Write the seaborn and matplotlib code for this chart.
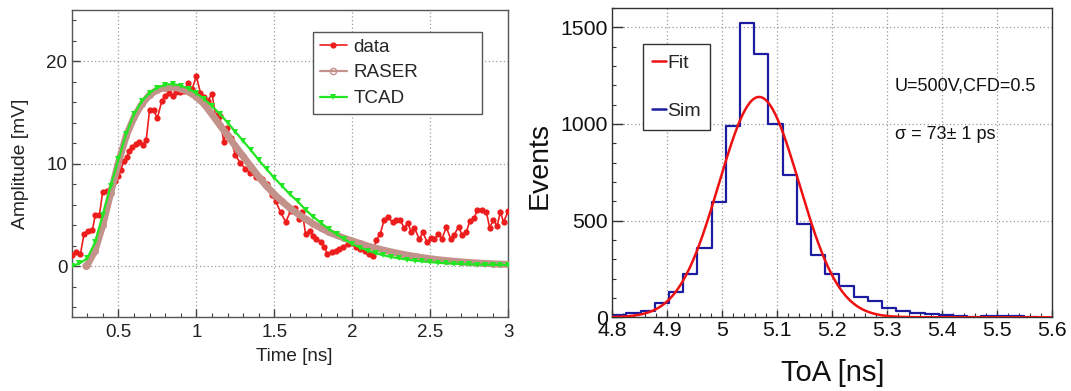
import numpy as np
import pandas as pd
import matplotlib
matplotlib.use("Agg")
import matplotlib.pyplot as plt
import seaborn as sns
from matplotlib.lines import Line2D
from matplotlib.ticker import MultipleLocator, FuncFormatter

# ---------------- data ----------------
data_t = [0.200, 0.228, 0.256, 0.279, 0.305, 0.333, 0.352, 0.378, 0.399, 0.427,
          0.452, 0.475, 0.497, 0.515, 0.535, 0.552, 0.570, 0.590, 0.612, 0.635,
          0.657, 0.678, 0.700, 0.725, 0.750, 0.778, 0.800, 0.822, 0.848, 0.870,
          0.895, 0.920, 0.948, 0.972, 1.000, 1.026, 1.050, 1.072, 1.100, 1.123,
          1.150, 1.176, 1.197, 1.220, 1.250, 1.280, 1.315, 1.347, 1.380, 1.405,
          1.423, 1.455, 1.487, 1.510, 1.540, 1.573, 1.605, 1.632, 1.658, 1.680,
          1.700, 1.727, 1.748, 1.770, 1.798, 1.819, 1.841, 1.869, 1.894, 1.916,
          1.941, 1.970, 1.995, 2.023, 2.050, 2.080, 2.108, 2.132, 2.152, 2.180,
          2.203, 2.231, 2.259, 2.280, 2.308, 2.334, 2.356, 2.377, 2.399, 2.431,
          2.452, 2.480, 2.506, 2.527, 2.553, 2.575, 2.603, 2.631, 2.652, 2.682,
          2.704, 2.732, 2.753, 2.781, 2.803, 2.833, 2.860, 2.882, 2.903, 2.930,
          2.950, 2.970, 3.000]
data_amp = [1.05, 1.40, 1.15, 3.10, 3.40, 3.50, 5.00, 4.95, 7.25, 7.30,
            7.60, 8.30, 8.80, 9.40, 10.2, 10.6, 11.2, 11.6, 11.9, 12.1,
            11.85, 12.25, 15.25, 15.2, 14.45, 16.1, 16.6, 16.9, 16.6, 17.0,
            16.95, 17.1, 17.85, 17.25, 18.5, 16.9, 16.5, 16.1, 16.8, 14.7,
            14.6, 12.1, 13.5, 12.5, 10.8, 10.1, 9.45, 9.10, 8.70, 8.50,
            8.48, 8.00, 6.90, 6.30, 5.25, 4.30, 5.40, 5.70, 4.60, 5.25,
            3.15, 3.45, 2.97, 2.65, 2.33, 1.85, 1.20, 1.35, 1.50, 1.70,
            1.85, 2.15, 2.20, 1.90, 1.70, 1.50, 1.15, 0.97, 2.50, 3.15,
            4.45, 4.75, 4.25, 4.50, 4.45, 3.70, 4.20, 3.35, 3.70, 2.60,
            3.30, 2.35, 2.70, 2.60, 3.15, 2.65, 3.80, 2.65, 3.00, 3.85,
            3.05, 3.35, 4.35, 4.65, 5.50, 5.50, 5.25, 3.70, 4.50, 3.95,
            5.30, 4.30, 5.35]

raser_t = [0.29, 0.30, 0.35, 0.40, 0.45, 0.50, 0.55, 0.60, 0.65, 0.70, 0.75,
           0.80, 0.85, 0.90, 0.95, 1.00, 1.05, 1.10, 1.15, 1.20, 1.25, 1.30,
           1.35, 1.40, 1.45, 1.50, 1.55, 1.60, 1.65, 1.70, 1.75, 1.80, 1.85,
           1.90, 1.95, 2.00, 2.05, 2.10, 2.15, 2.20, 2.25, 2.30, 2.35, 2.40,
           2.45, 2.50, 2.55, 2.60, 2.65, 2.70, 2.75, 2.80, 2.85, 2.90, 2.95, 3.00]
raser_amp = [0.0, 0.1, 1.5, 4.0, 7.1, 10.1, 12.7, 14.5, 15.8, 16.7, 17.2,
             17.4, 17.45, 17.3, 17.0, 16.5, 15.8, 14.8, 13.75, 12.75, 11.7, 10.7,
             9.7, 8.7, 7.8, 7.0, 6.3, 5.65, 5.1, 4.6, 4.1, 3.7, 3.3,
             3.0, 2.7, 2.45, 2.2, 1.95, 1.75, 1.55, 1.38, 1.22, 1.07, 0.94,
             0.82, 0.72, 0.62, 0.54, 0.47, 0.41, 0.35, 0.30, 0.26, 0.22, 0.19, 0.16]

tcad_t = [0.20, 0.25, 0.30, 0.35, 0.40, 0.45, 0.50, 0.55, 0.60, 0.65, 0.70,
          0.75, 0.80, 0.85, 0.90, 0.95, 1.00, 1.05, 1.10, 1.15, 1.20, 1.25,
          1.30, 1.35, 1.40, 1.45, 1.50, 1.55, 1.60, 1.65, 1.70, 1.75, 1.80,
          1.85, 1.90, 1.95, 2.00, 2.05, 2.10, 2.15, 2.20, 2.25, 2.30, 2.35,
          2.40, 2.45, 2.50, 2.55, 2.60, 2.65, 2.70, 2.75, 2.80, 2.85, 2.90,
          2.95, 3.00]
tcad_amp = [0.0, 0.25, 0.75, 2.3, 5.0, 7.8, 10.4, 12.9, 14.8, 16.1, 16.9,
            17.4, 17.7, 17.75, 17.6, 17.3, 16.85, 16.3, 15.6, 14.85, 14.0, 13.1,
            12.2, 11.3, 10.35, 9.45, 8.6, 7.8, 7.0, 6.3, 5.5, 4.8, 4.2,
            3.6, 3.1, 2.6, 2.15, 1.8, 1.5, 1.25, 1.05, 0.88, 0.75, 0.63,
            0.53, 0.45, 0.38, 0.32, 0.27, 0.23, 0.20, 0.17, 0.15, 0.13, 0.12,
            0.11, 0.10]

toa_edges = list(np.linspace(4.8, 5.575, 31))
sim_counts = [10, 20, 35, 72, 130, 225, 360, 598, 990, 1520,
              1360, 1000, 735, 482, 320, 222, 161, 104, 83, 50,
              35, 22, 15, 10, 7, 4, 7, 6, 5, 3]
fit_amp, fit_mean, fit_sigma = 1140.0, 5.067, 0.073

# ---------------- style ----------------
sns.set_style("ticks")
plt.rcParams['font.family'] = ['Liberation Sans', 'DejaVu Sans']

fig = plt.figure(figsize=(10.71, 3.91), dpi=100)
ax1 = fig.add_axes([0.0669, 0.1885, 0.4076, 0.7865])
ax2 = fig.add_axes([0.5717, 0.1885, 0.4106, 0.7910])

red = '#ee1d1d'
brown = '#c3928a'
green = '#22e622'
blue = '#1c1ca0'
grid_kw = dict(linestyle=(0, (1, 2)), color='#9a9a9a', linewidth=0.9)
fmt = FuncFormatter(lambda v, p: f"{v:g}")

# ---------------- left panel ----------------
sns.lineplot(x=data_t, y=data_amp, ax=ax1, color=red, linewidth=1.2,
             marker='o', markersize=4.5, markeredgewidth=0, sort=False,
             estimator=None, zorder=3)
sns.lineplot(x=raser_t, y=raser_amp, ax=ax1, color=brown, linewidth=5.0,
             marker='o', markersize=4, markerfacecolor='none',
             markeredgecolor=brown, markeredgewidth=1, sort=False,
             estimator=None, zorder=4)
sns.lineplot(x=tcad_t, y=tcad_amp, ax=ax1, color=green, linewidth=1.6,
             marker='v', markersize=4, markeredgewidth=0, sort=False,
             estimator=None, zorder=5)

ax1.set_xlim(0.2, 3.0)
ax1.set_ylim(-5, 25)
ax1.xaxis.set_major_locator(MultipleLocator(0.5))
ax1.xaxis.set_minor_locator(MultipleLocator(0.1))
ax1.yaxis.set_major_locator(MultipleLocator(10))
ax1.yaxis.set_minor_locator(MultipleLocator(2))
ax1.xaxis.set_major_formatter(fmt)
ax1.yaxis.set_major_formatter(fmt)
ax1.grid(True, which='major', **grid_kw)
ax1.tick_params(which='both', direction='in', colors='#444444',
                labelcolor='#222222', labelsize=13.5)
ax1.tick_params(which='major', length=6, width=1)
ax1.tick_params(which='minor', length=3, width=0.8)
ax1.tick_params(axis='x', pad=5)
ax1.tick_params(axis='y', pad=3)
for s in ax1.spines.values():
    s.set_color('#555555')
    s.set_linewidth(1.0)
ax1.set_xlabel('Time [ns]', fontsize=13.6, color='#222222', va='center')
ax1.xaxis.set_label_coords(0.511, -0.128)
ax1.set_ylabel('Amplitude [mV]', fontsize=13.9, color='#222222', va='center')
ax1.yaxis.set_label_coords(-0.1165, 0.498)

h1 = [Line2D([], [], color=red, lw=1.2, marker='o', ms=4.5, mew=0),
      Line2D([], [], color=brown, lw=1.6, marker='o', ms=4.5, mfc='none', mew=1),
      Line2D([], [], color=green, lw=1.6, marker='v', ms=4, mew=0)]
leg1 = ax1.legend(h1, ['data', 'RASER', 'TCAD'], loc='upper left',
                  bbox_to_anchor=(0.553, 0.0, 0.387, 0.928), mode='expand',
                  fontsize=13.6, frameon=True, fancybox=False, framealpha=1,
                  edgecolor='#555555', borderpad=0.35, labelspacing=0.45,
                  handlelength=1.45, handletextpad=0.35, borderaxespad=0)
leg1.get_frame().set_linewidth(1.0)

# ---------------- right panel ----------------
centers = [0.5 * (a + b) for a, b in zip(toa_edges[:-1], toa_edges[1:])]
sim_df = pd.DataFrame({'toa': centers, 'n': sim_counts})
sns.histplot(data=sim_df, x='toa', weights='n', bins=toa_edges,
             element='step', fill=False, color=blue, linewidth=1.6, ax=ax2)

fit_x = np.linspace(4.8, 5.6, 400)
fit_y = fit_amp * np.exp(-0.5 * ((fit_x - fit_mean) / fit_sigma) ** 2)
sns.lineplot(x=fit_x, y=fit_y, ax=ax2, color='#ee1111', linewidth=1.8,
             estimator=None, sort=False, zorder=5)

ax2.set_xlim(4.8, 5.6)
ax2.set_ylim(0, 1600)
ax2.xaxis.set_major_locator(MultipleLocator(0.1))
ax2.xaxis.set_minor_locator(MultipleLocator(0.02))
ax2.yaxis.set_major_locator(MultipleLocator(500))
ax2.yaxis.set_minor_locator(MultipleLocator(100))
ax2.xaxis.set_major_formatter(fmt)
ax2.yaxis.set_major_formatter(fmt)
ax2.grid(True, which='major', **grid_kw)
ax2.tick_params(which='both', direction='in', colors='#333333',
                labelcolor='#111111', labelsize=15.3)
ax2.tick_params(axis='y', which='major', length=8, width=1, pad=3)
ax2.tick_params(axis='x', which='major', length=5, width=1, pad=3)
ax2.tick_params(which='minor', length=3, width=0.8)
for s in ax2.spines.values():
    s.set_color('#333333')
    s.set_linewidth(1.0)
ax2.set_xlabel('ToA [ns]', fontsize=21, color='#111111', va='center')
ax2.xaxis.set_label_coords(0.5014, -0.18)
ax2.set_ylabel('Events', fontsize=20.5, color='#111111', va='center')
ax2.yaxis.set_label_coords(-0.1655, 0.491)

ax2.text(5.314, 1194, 'U=500V,CFD=0.5', fontsize=13, va='center',
         ha='left', color='#111111')
ax2.text(5.314, 946, 'σ = 73± 1 ps', fontsize=13, va='center',
         ha='left', color='#111111')

h2 = [Line2D([], [], color='#ee1111', lw=1.8),
      Line2D([], [], color=blue, lw=1.8)]
leg2 = ax2.legend(h2, ['Fit', 'Sim'], loc='upper left',
                  bbox_to_anchor=(0.069, 0.883), fontsize=14, frameon=True,
                  fancybox=False, framealpha=1, edgecolor='#333333',
                  borderpad=0.5, labelspacing=1.6, handlelength=0.7,
                  handletextpad=0.05, borderaxespad=0)
leg2.get_frame().set_linewidth(1.0)

fig.savefig('out.png', dpi=100)
